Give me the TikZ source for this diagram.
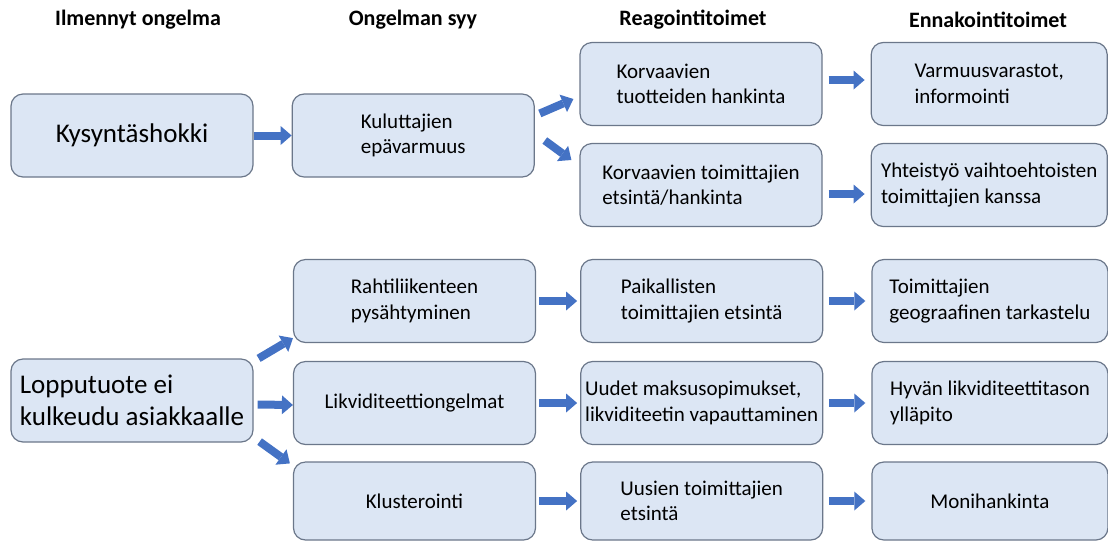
\documentclass[tikz,border=0pt]{standalone}
\usepackage{fontspec}
\setmainfont{Carlito}
\usepackage{tikz}
\usetikzlibrary{positioning,arrows.meta}
\definecolor{boxfill}{HTML}{DCE6F4}
\definecolor{boxline}{HTML}{6B778A}
\definecolor{arrblue}{HTML}{4472C4}

\begin{document}
\begin{tikzpicture}[
  x=1pt, y=-1pt,
  font=\fontsize{21}{25.5}\selectfont,
  box/.style={draw=boxline, fill=boxfill, line width=1.2pt, rounded corners=12pt,
    align=left, inner xsep=2pt, minimum width=242pt, minimum height=83pt},
  endbox/.style={box, minimum width=236pt},
  big/.style={box, font=\fontsize{27}{32}\selectfont},
  hd/.style={font=\bfseries\fontsize{22}{26}\selectfont},
  arr/.style={-{Triangle[width=19pt,length=11pt,line width=0pt]}, line width=8pt, arrblue},
  shrt/.style={shorten <=#1, shorten >=#1}
]
\useasboundingbox (0,0) rectangle (1108,542);

% column titles
\node[hd] (h1) at (138,20) {Ilmennyt ongelma};
\node[hd] (h2) at (413,20) {Ongelman syy};
\node[hd] (h3) at (693,20) {Reagointitoimet};
\node[hd] (h4) at (988,20) {Ennakointitoimet};

% upper chain
\node[big] (kys) at (132,135.5) {Kysyntäshokki};
\node[box, right=38pt of kys] (kul) {Kuluttajien\\epävarmuus};
\node[box] (kor1) at (701,84) {Korvaavien\\tuotteiden hankinta};
\node[box] (kor2) at (701,185) {Korvaavien toimittajien\\etsintä/hankinta};
\node[endbox, right=48pt of kor1] (var) {Varmuusvarastot,\\informointi};
\node[endbox, right=48pt of kor2] (yht) {Yhteistyö vaihtoehtoisten\\toimittajien kanssa};

% lower chain
\node[big] (lop) at (132,400.5) {Lopputuote ei\\kulkeudu asiakkaalle};
\node[box] (rah) at (414.5,301) {Rahtiliikenteen\\pysähtyminen};
\node[box] (lik) at (414.5,403) {Likviditeettiongelmat};
\node[box, minimum height=78pt] (klu) at (414.5,501) {Klusterointi};
\node[box, right=44pt of rah] (pai) {Paikallisten\\toimittajien etsintä};
\node[box, right=44pt of lik] (uud) {Uudet maksusopimukset,\\likviditeetin vapauttaminen};
\node[box, minimum height=78pt, right=44pt of klu] (uus) {Uusien toimittajien\\etsintä};
\node[endbox, right=48pt of pai] (toi) {Toimittajien\\geograafinen tarkastelu};
\node[endbox, right=48pt of uud] (hyv) {Hyvän likviditeettitason\\ylläpito};
\node[endbox, minimum height=78pt, right=48pt of uus] (mon) {Monihankinta};

% arrows
\draw[arr] (kys) -- (kul);
\draw[arr] ([shift={(5,-22)}]kul.east) -- ([shift={(-6,15)}]kor1.west);
\draw[arr] ([shift={(10,5)}]kul.east) -- ([shift={(-8,-25)}]kor2.west);
\draw[arr, shrt=6pt] ([shift={(0,-4)}]kor1.east) -- ([shift={(0,-4)}]var.west);
\draw[arr, shrt=6pt] ([shift={(0,9)}]kor2.east) -- ([shift={(0,9)}]yht.west);
\draw[arr] ([shift={(5,0)}]lop.north east) -- ([shift={(0,-5)}]rah.south west);
\draw[arr] ([shift={(4,4)}]lop.east) -- ([shift={(0,2)}]lik.west);
\draw[arr] ([shift={(6,-1)}]lop.south east) -- ([shift={(-3,2)}]klu.north west);
\foreach \p/\q in {rah/pai, lik/uud, klu/uus}
  \draw[arr, shrt=3pt] (\p) -- (\q);
\foreach \p/\q in {pai/toi, uud/hyv, uus/mon}
  \draw[arr, shrt=6pt] (\p) -- (\q);
\end{tikzpicture}
\end{document}
